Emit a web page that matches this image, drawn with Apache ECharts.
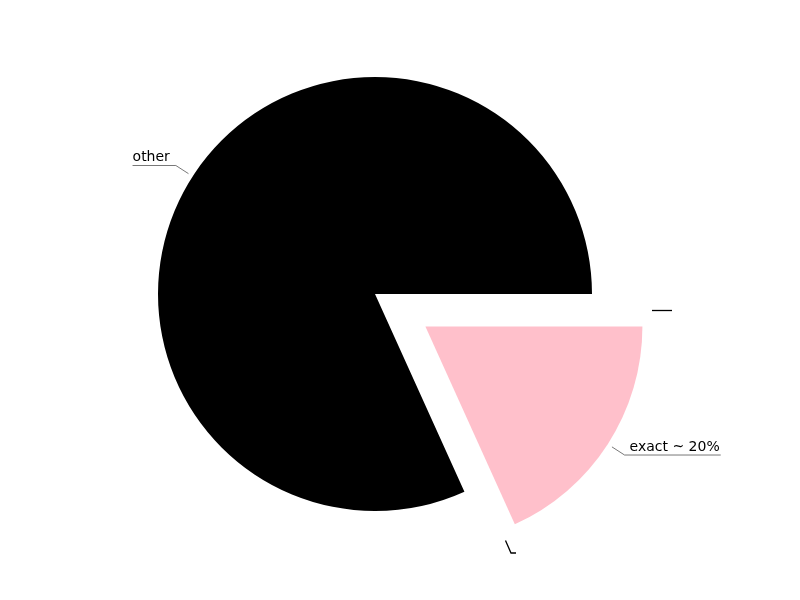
<!DOCTYPE html>
<html>
<head>
<meta charset="utf-8">
<script src="https://cdn.jsdelivr.net/npm/echarts@6/dist/echarts.min.js"></script>
<style>html,body{margin:0;padding:0;background:#fff;}#c{width:800px;height:600px;}</style>
</head>
<body>
<div id="c"></div>
<script>
const categories = ['other', 'exact ~ 20%'];
const values = [81.76, 18.24];
const colors = ['#000000', '#ffc0cb'];
const exploded = [false, true];

const chart = echarts.init(document.getElementById('c'), null, {renderer: 'canvas'});

const CX = 375, CY = 294, R = 217, EXPLODE = 60;
const total = values.reduce((a, b) => a + b, 0);

function labelLayout(p) {
  const pts = p.labelLinePoints;
  if (!pts) return {};
  const p0 = pts[0], p1 = pts[1];
  const dx = p1[0] - p0[0], dy = p1[1] - p0[1];
  const len = Math.sqrt(dx * dx + dy * dy) || 1;
  const s0 = [p0[0] + dx / len * 5, p0[1] + dy / len * 5];
  const e1 = [p0[0] + dx / len * 20, p0[1] + dy / len * 20];
  const w = p.labelRect.width;
  const right = dx >= 0;
  const tx = right ? e1[0] + 5 : e1[0] - 6 - w;
  const end = right ? [tx + w + 1, e1[1]] : [tx, e1[1]];
  return {
    x: tx,
    y: e1[1] - p.labelRect.height / 2 - 1,
    align: 'left',
    verticalAlign: 'middle',
    labelLinePoints: [s0, e1, end]
  };
}

// one pie per visual group; exploded slices get their own pie moved along their mid-angle
const series = [];
let acc = 0;
const mids = values.map(v => { const m = (acc + v / 2) / total * 360; acc += v; return m; });

[false, true].forEach(group => {
  let ox = 0, oy = 0;
  if (group) {
    const idx = exploded.indexOf(true);
    const a = mids[idx] * Math.PI / 180;
    ox = Math.cos(a) * EXPLODE;
    oy = -Math.sin(a) * EXPLODE;
  }
  series.push({
    type: 'pie',
    center: [CX + ox, CY + oy],
    radius: [0, R],
    startAngle: 0,
    clockwise: false,
    avoidLabelOverlap: false,
    silent: true,
    emphasis: {disabled: true},
    data: categories.map((name, i) => {
      const visible = exploded[i] === group;
      return {
        name: name,
        value: values[i],
        itemStyle: {color: visible ? colors[i] : 'rgba(0,0,0,0)'},
        label: {show: visible},
        labelLine: {show: visible}
      };
    }),
    label: {
      position: 'outside',
      color: '#000',
      fontFamily: 'DejaVu Sans',
      fontSize: 14,
      distanceToLabelLine: 0
    },
    labelLine: {
      length: 20,
      length2: 0,
      lineStyle: {color: '#555', width: 0.8}
    },
    labelLayout: labelLayout
  });
});

chart.setOption({
  animation: false,
  backgroundColor: '#ffffff',
  series: series,
  graphic: [
    {type: 'polyline', shape: {points: [[652, 310.5], [672, 310.5]]}, style: {stroke: '#000', lineWidth: 1.3, fill: null}},
    {type: 'polyline', shape: {points: [[505.5, 540.5], [511, 553], [516, 553]]}, style: {stroke: '#000', lineWidth: 1.3, fill: null}}
  ]
});
</script>
</body>
</html>
